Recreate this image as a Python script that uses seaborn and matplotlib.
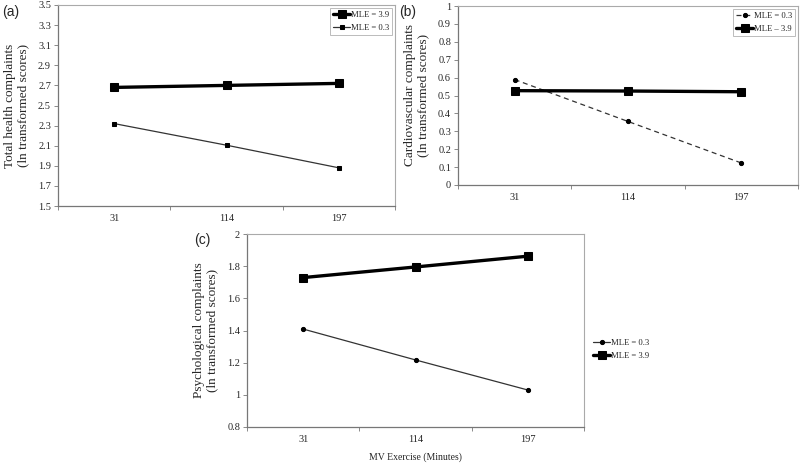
import matplotlib
matplotlib.use("Agg")
import matplotlib.pyplot as plt
import seaborn as sns
import pandas as pd

# categories on the x axis (MV exercise minutes)
x_labels = ["31", "114", "197"]
x_pos = [0, 1, 2]

# (a) total health complaints
a_mle39 = [2.68, 2.70, 2.72]
a_mle03 = [2.32, 2.105, 1.88]
# (b) cardiovascular complaints
b_mle03 = [0.589, 0.355, 0.123]
b_mle39 = [0.527, 0.525, 0.521]
# (c) psychological complaints
c_mle03 = [1.409, 1.217, 1.030]
c_mle39 = [1.729, 1.795, 1.862]

a_yticks = [1.5, 1.7, 1.9, 2.1, 2.3, 2.5, 2.7, 2.9, 3.1, 3.3, 3.5]
b_yticks = [0, 0.1, 0.2, 0.3, 0.4, 0.5, 0.6, 0.7, 0.8, 0.9, 1]
c_yticks = [0.8, 1, 1.2, 1.4, 1.6, 1.8, 2]

sns.set_style("ticks")
plt.rcParams["font.family"] = ["Liberation Serif", "DejaVu Serif"]

fig = plt.figure(figsize=(8, 4.63), dpi=100)
fig.patch.set_facecolor("white")

ax_a = fig.add_axes([58 / 800, 1 - 206 / 463, 337 / 800, 201 / 463])
ax_b = fig.add_axes([458 / 800, 1 - 185 / 463, 340 / 800, 179 / 463])
ax_c = fig.add_axes([247 / 800, 1 - 427 / 463, 337 / 800, 193 / 463])


def thick(ax, vals, label):
    df = pd.DataFrame({"x": x_pos, "y": vals})
    sns.lineplot(data=df, x="x", y="y", ax=ax, color="black", linewidth=2.4,
                 marker="s", markersize=6, markeredgecolor="black", label=label)


def thin(ax, vals, label, marker, dashed=False):
    df = pd.DataFrame({"x": x_pos, "y": vals})
    sns.lineplot(data=df, x="x", y="y", ax=ax, color="#333333", linewidth=0.9,
                 marker=marker, markersize=3, markeredgecolor="black",
                 markerfacecolor="black", label=label,
                 linestyle=(0, (4, 3)) if dashed else "-")


def style_axes(ax, yticks, ylabel, width_px):
    ax.set_xlim(-0.5, 2.5)
    ax.set_ylim(yticks[0], yticks[-1])
    ax.set_yticks(yticks)
    ax.set_yticklabels([f"{t:g}" for t in yticks])
    ax.set_xticks(x_pos)
    ax.set_xticklabels(x_labels)
    ax.set_xticks([-0.5, 0.5, 1.5, 2.5], minor=True)
    ax.tick_params(axis="x", which="major", length=0, pad=6, labelsize=7.5)
    ax.tick_params(axis="x", which="minor", length=3, width=0.6, color="#777777")
    ax.tick_params(axis="y", length=3, width=0.6, color="#777777", labelsize=7.5, pad=2)
    for s in ["left", "bottom"]:
        ax.spines[s].set_color("#777777")
        ax.spines[s].set_linewidth(0.9)
    for s in ["top", "right"]:
        ax.spines[s].set_visible(True)
        ax.spines[s].set_color("#aaaaaa")
        ax.spines[s].set_linewidth(0.8)
    ax.set_xlabel("")
    ax.set_ylabel(ylabel, fontsize=9.5, linespacing=1.1)
    ax.yaxis.set_label_coords(-29 / width_px, 0.5)


# panel (a)
thick(ax_a, a_mle39, "MLE = 3.9")
thin(ax_a, a_mle03, "MLE = 0.3", "s")
style_axes(ax_a, a_yticks, "Total health complaints\n(ln transformed scores)", 337)

# panel (b)
thin(ax_b, b_mle03, "MLE = 0.3", "o", dashed=True)
thick(ax_b, b_mle39, "MLE \u2013 3.9")
style_axes(ax_b, b_yticks, "Cardiovascular complaints\n(ln transformed scores)", 340)

# panel (c)
thin(ax_c, c_mle03, "MLE = 0.3", "o")
thick(ax_c, c_mle39, "MLE = 3.9")
style_axes(ax_c, c_yticks, "Psychological complaints\n(ln transformed scores)", 337)
ax_c.set_xlabel("MV Exercise (Minutes)", fontsize=7, labelpad=6)

leg_kw = dict(fontsize=6.2, handlelength=2.0, handletextpad=0.1,
              borderpad=0.35, labelspacing=0.6, fancybox=False,
              borderaxespad=0.3)
for ax in (ax_a, ax_b):
    lg = ax.legend(loc="upper right", frameon=True, edgecolor="#aaaaaa", **leg_kw)
    lg.get_frame().set_linewidth(0.7)
ax_c.legend(loc="center left", bbox_to_anchor=(1.01, 0.40), frameon=False, **leg_kw)

# panel letters
for txt, x, y in [("(a)", 2, 12), ("(b)", 399, 12), ("(c)", 194, 240)]:
    fig.text(x / 800, 1 - y / 463, txt, fontsize=10, va="center", ha="left",
             family=["Liberation Sans", "DejaVu Sans"])

fig.savefig("out.png", dpi=100, facecolor="white")
